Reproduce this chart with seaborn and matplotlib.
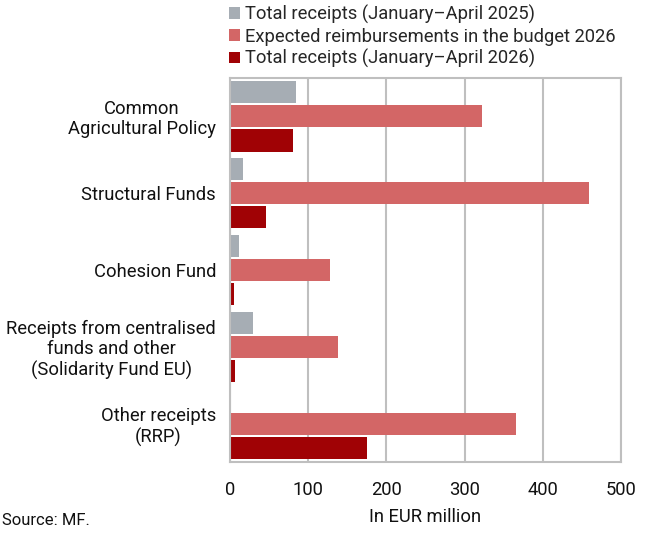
import numpy as np
import pandas as pd
import matplotlib
matplotlib.use('Agg')
import matplotlib.pyplot as plt
import seaborn as sns

# ── DATA ─────────────────────────────────────────────────────────────────────
categories = ['Common\nAgricultural Policy', 'Structural Funds', 'Cohesion Fund',
              'Receipts from centralised\nfunds and other\n(Solidarity Fund EU)',
              'Other receipts\n(RRP)']
series_names = ['Total receipts (January\u2013April 2025)',
                'Expected reimbursements in the budget 2026',
                'Total receipts (January\u2013April 2026)']
receipts_2025 = [84, 16, 11, 29, 0]
expected_2026 = [322, 459, 128, 138, 366]
receipts_2026 = [80, 46, 5, 6, 175]
colors = ['#A6ADB4', '#D36666', '#A00205']

df = pd.DataFrame({
    'category': categories * 3,
    'series': np.repeat(series_names, len(categories)),
    'value': receipts_2025 + expected_2026 + receipts_2026,
})

# ── PLOT ─────────────────────────────────────────────────────────────────────
sns.set_style('white')
plt.rcParams['font.family'] = ['Roboto', 'DejaVu Sans']

fig = plt.figure(figsize=(6.51, 5.33), dpi=100)
ax = fig.add_axes([0.3533, 0.1332, 0.6006, 0.7205])

sns.barplot(data=df, y='category', x='value', hue='series', orient='h',
            palette=colors, width=0.94, gap=0.08, saturation=1,
            linewidth=0, ax=ax, legend=True)

ax.set_xlim(0, 500)
ax.set_xticks([0, 100, 200, 300, 400, 500])
ax.set_ylim(4.5, -0.5)
ax.grid(axis='x', color='#BFBFBF', linewidth=1.5)
ax.set_axisbelow(True)
for s in ax.spines.values():
    s.set_color('#BFBFBF')
    s.set_linewidth(1.5)
ax.tick_params(axis='both', length=0, labelsize=13.2, colors='#111111')
ax.tick_params(axis='x', pad=14)
ax.tick_params(axis='y', pad=10)
for lbl in ax.get_yticklabels():
    lbl.set_multialignment('center')
    lbl.set_linespacing(1.15)
ax.set_ylabel('')
ax.set_xlabel('In EUR million', fontsize=13.2, color='#111111', labelpad=6)

handles, labels = ax.get_legend_handles_labels()
ax.legend_.remove()
fig.legend(handles, labels, loc='upper left', bbox_to_anchor=(0.34, 1.005),
           frameon=False, fontsize=13.2, handlelength=0.6, handleheight=0.6,
           handletextpad=0.3, labelspacing=0.2, borderaxespad=0)

fig.text(0.003, 0.01, 'Source: MF.', fontsize=12, color='#111111', ha='left', va='bottom')

fig.savefig('out.png', dpi=100)
